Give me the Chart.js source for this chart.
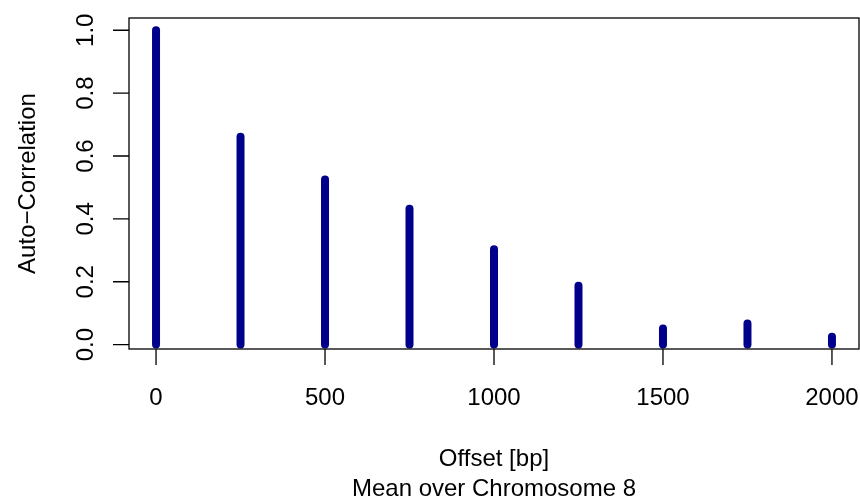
<!DOCTYPE html>
<html>
<head>
<meta charset="utf-8">
<script src="https://cdn.jsdelivr.net/npm/chart.js@4"></script>
<style>
  html, body { margin: 0; padding: 0; background: #fff; }
  #wrap { width: 860px; height: 498px; }
</style>
</head>
<body>
<div id="wrap"><canvas id="acfChart"></canvas></div>
<script>
// Offsets (bp) and mean auto-correlation values
const offsets = [0, 250, 500, 750, 1000, 1250, 1500, 1750, 2000];
const autoCorrelation = [1.0, 0.661, 0.525, 0.432, 0.303, 0.187, 0.051, 0.067, 0.025];
// Tick labels
const xTicks = [0, 500, 1000, 1500, 2000];
const yTicks = [0.0, 0.2, 0.4, 0.6, 0.8, 1.0];
// Texts
const xTitle = 'Offset [bp]';
const yTitle = 'Auto\u2212Correlation';
const subTitle = 'Mean over Chromosome 8';

const FONT = '24px "Liberation Sans", Arial, Helvetica, sans-serif';
const stemColor = '#00008B';

// one dataset per vertical stem (R type = "h")
const stems = offsets.map((x, i) => ({
    data: [{ x: x, y: 0 }, { x: x, y: autoCorrelation[i] }],
    borderColor: stemColor,
    borderWidth: 8,
    borderCapStyle: 'round',
    pointRadius: 0,
    clip: false
}));

// draws the R style box, ticks and labels
const baseAxes = {
    id: 'baseAxes',
    afterDraw(chart) {
        const ctx = chart.ctx;
        const area = chart.chartArea;
        const xs = chart.scales.x;
        const ys = chart.scales.y;
        ctx.save();
        ctx.strokeStyle = '#000';
        ctx.lineWidth = 1.3;
        ctx.strokeRect(area.left, area.top, area.right - area.left, area.bottom - area.top);

        ctx.beginPath();
        xTicks.forEach(v => {
            const px = xs.getPixelForValue(v);
            ctx.moveTo(px, area.bottom);
            ctx.lineTo(px, area.bottom + 16);
        });
        yTicks.forEach(v => {
            const py = ys.getPixelForValue(v);
            ctx.moveTo(area.left, py);
            ctx.lineTo(area.left - 16, py);
        });
        ctx.stroke();

        ctx.fillStyle = '#000';
        ctx.font = FONT;
        ctx.textAlign = 'center';
        ctx.textBaseline = 'alphabetic';
        xTicks.forEach(v => {
            ctx.fillText(String(v), xs.getPixelForValue(v), area.bottom + 56);
        });
        const midX = (area.left + area.right) / 2;
        ctx.fillText(xTitle, midX, area.bottom + 117);
        ctx.fillText(subTitle, midX, area.bottom + 147);

        yTicks.forEach(v => {
            ctx.save();
            ctx.translate(area.left - 36, ys.getPixelForValue(v));
            ctx.rotate(-Math.PI / 2);
            ctx.fillText(v.toFixed(1), 0, 0);
            ctx.restore();
        });
        ctx.save();
        ctx.translate(area.left - 94, (area.top + area.bottom) / 2);
        ctx.rotate(-Math.PI / 2);
        ctx.fillText(yTitle, 0, 0);
        ctx.restore();
        ctx.restore();
    }
};

new Chart(document.getElementById('acfChart').getContext('2d'), {
    type: 'line',
    data: { datasets: stems },
    options: {
        responsive: true,
        maintainAspectRatio: false,
        animation: false,
        layout: { padding: { left: 129, right: 1, top: 18, bottom: 149 } },
        plugins: {
            legend: { display: false },
            tooltip: { enabled: false }
        },
        scales: {
            x: { type: 'linear', min: -80, max: 2080, display: false },
            y: { type: 'linear', min: -0.014, max: 1.039, display: false }
        }
    },
    plugins: [baseAxes]
});
</script>
</body>
</html>
